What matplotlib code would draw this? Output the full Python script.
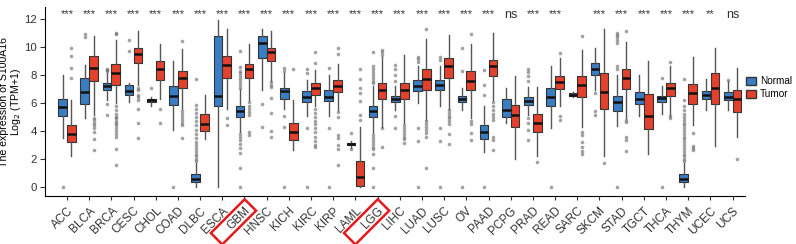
import matplotlib.pyplot as plt
from matplotlib.patches import Patch, Rectangle
from matplotlib.transforms import Affine2D, ScaledTranslation
import numpy as np

plt.rcParams['font.family'] = ['Liberation Sans', 'DejaVu Sans']

cancers = ["ACC", "BLCA", "BRCA", "CESC", "CHOL", "COAD", "DLBC", "ESCA", "GBM", "HNSC",
           "KICH", "KIRC", "KIRP", "LAML", "LGG", "LIHC", "LUAD", "LUSC", "OV", "PAAD",
           "PCPG", "PRAD", "READ", "SARC", "SKCM", "STAD", "TGCT", "THCA", "THYM", "UCEC", "UCS"]
signif = ["***"] * 20 + ["ns", "***", "***", "", "***", "***", "***", "***", "***", "**", "ns"]
highlight = ["GBM", "LGG"]

# box stats: whisker low, q1, median, q3, whisker high
normal_lo  = [3.5, 4.95, 6.2, 6.1, 5.8, 4.1, 0.05, 0.0, 3.95, 6.9, 5.6, 5.05, 5.1, 2.8, 3.85, 5.5,
              6.0, 5.8, 5.5, 2.5, 4.55, 5.15, 4.2, 6.45, 6.95, 4.35, 5.1, 5.25, 0.05, 5.5, 5.5]
normal_q1  = [5.1, 5.9, 6.95, 6.6, 6.05, 5.85, 0.35, 5.8, 4.98, 9.2, 6.3, 6.05, 6.15, 3.0, 5.0, 6.05,
              6.85, 6.9, 6.1, 3.4, 5.0, 5.85, 5.8, 6.5, 8.0, 5.45, 5.9, 6.1, 0.35, 6.25, 6.2]
normal_med = [5.7, 6.75, 7.2, 6.85, 6.2, 6.5, 0.6, 6.5, 5.4, 10.3, 6.85, 6.4, 6.45, 3.08, 5.4, 6.3,
              7.2, 7.25, 6.3, 3.9, 5.5, 6.15, 6.4, 6.6, 8.45, 6.05, 6.3, 6.35, 0.6, 6.55, 6.45]
normal_q3  = [6.3, 7.75, 7.4, 7.25, 6.3, 7.2, 0.95, 10.75, 5.75, 10.75, 7.05, 6.85, 6.95, 3.15, 5.8, 6.5,
              7.65, 7.65, 6.5, 4.4, 6.3, 6.45, 7.05, 6.7, 8.85, 6.5, 6.8, 6.5, 0.95, 6.85, 6.75]
normal_hi  = [8.0, 8.7, 8.1, 7.4, 6.4, 9.0, 1.7, 11.9, 7.0, 11.25, 8.1, 7.65, 8.0, 3.3, 7.2, 7.2,
              8.6, 8.6, 7.05, 5.75, 7.1, 7.15, 8.65, 6.75, 9.9, 8.0, 8.0, 7.2, 1.7, 7.7, 7.6]
normal_out = [
    [0], [10.9, 10.7], [8.45, 8.35, 8.25, 5.95, 5.15], [10.45, 9.7], [7.05], [0],
    [7.7, 5.85, 5.6, 5.3, 5.0, 4.7, 4.4, 4.1, 3.8, 3.5, 3.2, 3.0, 2.8, 2.6, 2.4, 2.2, 2.0, 1.85],
    [],
    [9.7, 8.55, 8.3, 8.1, 7.9, 7.7, 7.5, 7.3, 7.1, 3.8, 3.6, 3.35, 3.1, 2.8, 2.45, 1.35, 0],
    [5.9, 4.3], [8.5, 8.3, 5.1, 4.3, 0], [8.45, 8.15, 4.25, 0], [8.5, 4.25, 0], [3.85, 2.75],
    [9.65, 8.6, 8.4, 8.2, 8.0, 7.8, 7.6, 7.4, 3.7, 3.5, 3.3, 3.1, 2.9, 2.7, 2.4, 1.35, 0],
    [8.7, 8.45, 8.0, 7.6, 5.05, 4.25], [9.3, 9.1, 8.95, 4.25, 3.3, 0], [9.3, 9.05, 4.2, 3.3, 0],
    [9.95, 8.25, 0], [8.35, 7.3, 6.6, 0], [], [8.4, 8.2, 7.9, 7.6, 4.9, 4.6, 4.05, 3.35], [0], [],
    [6.7, 5.4, 5.15], [11.0, 10.85, 10.7, 10.5, 10.3, 8.6, 8.4, 0], [], [7.75, 0],
    [7.7, 6.2, 5.8, 5.5, 5.2, 5.0, 4.8, 4.6, 4.4, 4.2, 4.0, 3.8, 3.6, 3.4, 3.2, 3.0, 2.8, 2.6,
     2.4, 2.2, 2.0, 1.85],
    [], [7.65],
]

tumor_lo  = [2.25, 5.15, 6.0, 7.3, 6.25, 5.6, 3.4, 5.6, 6.2, 7.6, 2.65, 5.75, 5.5, 0.0, 4.3, 4.55,
             4.8, 5.6, 4.9, 6.2, 2.0, 2.2, 5.8, 4.3, 2.2, 4.9, 2.35, 5.15, 4.45, 2.95, 3.6]
tumor_q1  = [3.2, 7.55, 7.3, 8.85, 7.65, 7.1, 4.0, 7.8, 7.75, 9.0, 3.35, 6.6, 6.75, 0.1, 6.3, 6.25,
             6.95, 7.8, 6.9, 7.9, 4.3, 3.9, 7.0, 6.4, 5.6, 7.0, 4.15, 6.5, 5.95, 5.9, 5.35]
tumor_med = [3.8, 8.5, 8.15, 9.5, 8.4, 7.8, 4.5, 8.7, 8.4, 9.6, 3.9, 7.05, 7.2, 0.75, 6.9, 6.9,
             7.7, 8.6, 7.55, 8.65, 5.15, 4.6, 7.5, 7.25, 6.75, 7.8, 5.1, 7.05, 6.7, 7.1, 6.25]
tumor_q3  = [4.4, 9.35, 8.75, 9.9, 9.0, 8.3, 5.2, 9.35, 8.8, 9.95, 4.55, 7.4, 7.65, 1.85, 7.45, 7.45,
             8.45, 9.2, 8.25, 9.05, 5.85, 5.25, 7.95, 7.9, 8.1, 8.45, 6.65, 7.45, 7.35, 8.1, 6.9]
tumor_hi  = [6.2, 10.8, 10.5, 11.1, 10.2, 9.85, 6.55, 11.3, 10.2, 11.15, 6.2, 8.35, 8.8, 4.3, 9.3, 9.4,
             10.55, 10.85, 10.2, 11.0, 7.95, 7.15, 9.2, 9.8, 11.25, 10.35, 9.0, 8.6, 9.25, 9.95, 8.5]
tumor_out = [
    [9.95, 9.35, 8.5, 7.75], [4.9, 4.8, 4.6, 4.4, 4.25, 3.95, 3.4, 2.65],
    [11.0, 10.9, 5.8, 5.5, 5.2, 5.0, 4.9, 4.75, 4.6, 4.4, 4.2, 4.0, 3.8, 3.6, 2.75, 1.55],
    [7.1, 6.9, 6.6, 6.4, 6.2, 5.6, 4.6, 3.5], [5.55, 4.6],
    [10.4, 5.4, 5.2, 5.0, 4.8, 4.6, 4.4, 3.5], [], [4.95, 4.45],
    [6.05, 5.8, 5.6, 5.35, 5.15, 3.95, 3.7], [7.5, 7.3, 7.15, 6.35, 5.3, 4.0, 3.55], [8.4],
    [9.65, 8.85, 5.6, 5.3, 5.0, 4.75, 4.5, 4.2, 3.95, 3.6, 3.3, 3.0, 2.9],
    [9.95, 9.5, 5.35, 5.0, 3.7, 3.5, 3.0, 2.75, 1.55], [8.4, 7.7, 7.1, 6.7, 6.15, 5.15, 4.8],
    [9.75, 9.6, 9.45, 4.2, 2.9], [4.4, 4.2, 4.0, 3.8, 3.6, 3.4, 3.15],
    [11.25, 4.7, 4.5, 4.3, 4.1, 3.85, 3.6, 1.35], [5.5, 5.3, 5.1, 4.9, 4.7, 4.5, 3.8, 3.1],
    [10.9, 4.7, 4.5, 3.85, 3.35], [6.05, 5.8, 5.5, 5.2, 5.0, 4.8, 3.6, 3.35, 2.65], [], [1.8],
    [9.55, 5.05, 4.8], [10.8, 3.9, 3.7, 3.2, 2.9, 2.6, 2.35], [1.7],
    [11.15, 4.8, 4.65, 3.6, 3.35, 2.6], [], [8.95, 5.05, 4.9], [3.85, 2.95, 2.8, 2.65], [], [2.0],
]

normal_col = "#3a7dc2"
tumor_col = "#e4412d"


def make_stats(lo, q1, med, q3, hi, out):
    return [dict(whislo=a, q1=b, med=c, q3=d, whishi=e, fliers=f)
            for a, b, c, d, e, f in zip(lo, q1, med, q3, hi, out)]


fig = plt.figure(figsize=(7.96, 2.44), dpi=100)
ax = fig.add_axes([0.0565, 0.197, 0.8795, 0.774])

x = np.arange(len(cancers))
common = dict(widths=0.39, patch_artist=True, showcaps=False, manage_ticks=False,
              medianprops=dict(color="#111111", lw=1.8),
              whiskerprops=dict(color="#555555", lw=1.0),
              flierprops=dict(marker="o", markersize=2.6, markerfacecolor="#666666",
                              markeredgecolor="none", alpha=0.6))

for stats, pos, col in [
    (make_stats(normal_lo, normal_q1, normal_med, normal_q3, normal_hi, normal_out), x - 0.2, normal_col),
    (make_stats(tumor_lo, tumor_q1, tumor_med, tumor_q3, tumor_hi, tumor_out), x + 0.2, tumor_col),
]:
    ax.bxp(stats, positions=pos,
           boxprops=dict(facecolor=col, edgecolor="#333333", lw=0.8), **common)

for i, s in enumerate(signif):
    if s:
        ax.text(i, 12.3, s, ha="center", va="center", fontsize=8 if s != "ns" else 9,
                color="#333333")

ax.set_xlim(-0.99, 30.56)
ax.set_ylim(-0.62, 12.83)
ax.set_yticks(range(0, 13, 2))
ax.set_xticks(x)
ax.set_xticklabels(cancers, rotation=45, ha="right", rotation_mode="anchor", fontsize=8.5)
ax.tick_params(axis="y", labelsize=8.2, colors="#333333", pad=2.5)
ax.tick_params(axis="x", colors="#333333", length=3)
for sp in ["top", "right"]:
    ax.spines[sp].set_visible(False)
ax.set_ylabel("The expression of S100A16\nLog$_2$ (TPM+1)", fontsize=7.6, linespacing=0.95)
ax.yaxis.set_label_coords(-0.032, 0.5)

# red frames around the highlighted tick labels, tilted with the labels
for name in highlight:
    i = cancers.index(name)
    tr = (Affine2D().rotate_deg(45).scale(fig.dpi / 72)
          + ScaledTranslation(i, 0, ax.get_xaxis_transform()))
    fig.add_artist(Rectangle((-36, -13.4), 34.4, 11.6, transform=tr, fill=False,
                             ec="#e41a1c", lw=1.8, clip_on=False))

handles = [Patch(facecolor=normal_col, edgecolor="#333333", label="Normal"),
           Patch(facecolor=tumor_col, edgecolor="#333333", label="Tumor")]
fig.legend(handles=handles, loc="center left", bbox_to_anchor=(0.937, 0.64), frameon=False,
           fontsize=7.2, handlelength=1.0, handleheight=0.9, handletextpad=0.4,
           labelspacing=0.3, borderpad=0, borderaxespad=0)

fig.savefig("out.png", dpi=100)
